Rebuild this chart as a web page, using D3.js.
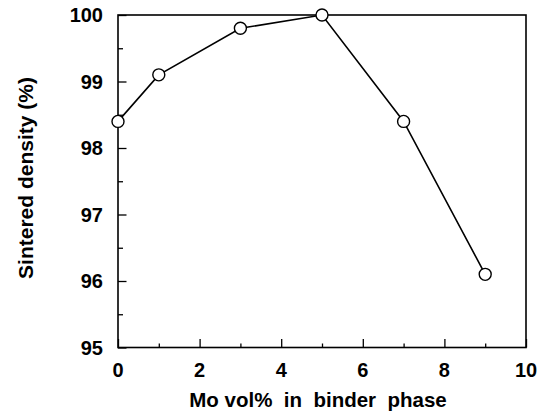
<!DOCTYPE html>
<html><head><meta charset="utf-8">
<script src="https://cdn.jsdelivr.net/npm/d3@7"></script>
<style>
body{margin:0;background:#fff;}
text{font-family:"Liberation Sans",Arial,Helvetica,sans-serif;font-weight:bold;fill:#000;}
</style></head>
<body><svg id="c" width="548" height="413"></svg>
<script>
const moVol = [0, 1, 3, 5, 7, 9];
const density = [98.4, 99.1, 99.8, 100.0, 98.4, 96.1];
const xTicks = [0, 2, 4, 6, 8, 10];
const yTicks = [95, 96, 97, 98, 99, 100];
const xMinor = [1, 3, 5, 7, 9];
const yMinor = [95.5, 96.5, 97.5, 98.5, 99.5];
const xTitle = "Mo vol%\u00a0 in\u00a0 binder\u00a0 phase";
const yTitle = "Sintered density (%)";

const L = 118, R = 526, T = 15, B = 347.5;
const svg = d3.select("#c");
const x = d3.scaleLinear().domain([0, 10]).range([L, R]);
const y = d3.scaleLinear().domain([95, 100]).range([B, T]);

// frame
svg.append("rect").attr("x", L).attr("y", T).attr("width", R - L).attr("height", B - T)
  .attr("fill", "none").attr("stroke", "#000").attr("stroke-width", 1.6);

// left axis ticks (inward)
const ya = svg.append("g").attr("transform", `translate(${L},0)`)
  .call(d3.axisRight(y).tickValues(yTicks).tickSize(8.5).tickFormat(""));
ya.select(".domain").remove();
ya.selectAll("line").attr("stroke", "#000").attr("stroke-width", 1.3);
const yam = svg.append("g").attr("transform", `translate(${L},0)`)
  .call(d3.axisRight(y).tickValues(yMinor).tickSize(5).tickFormat(""));
yam.select(".domain").remove();
yam.selectAll("line").attr("stroke", "#000").attr("stroke-width", 1.3);

// bottom axis ticks (inward)
const xa = svg.append("g").attr("transform", `translate(0,${B})`)
  .call(d3.axisTop(x).tickValues(xTicks).tickSize(8.5).tickFormat(""));
xa.select(".domain").remove();
xa.selectAll("line").attr("stroke", "#000").attr("stroke-width", 1.3);
const xam = svg.append("g").attr("transform", `translate(0,${B})`)
  .call(d3.axisTop(x).tickValues(xMinor).tickSize(4).tickFormat(""));
xam.select(".domain").remove();
xam.selectAll("line").attr("stroke", "#000").attr("stroke-width", 1.3);

// tick labels
svg.append("g").selectAll("text").data(yTicks).join("text")
  .attr("x", 103).attr("y", d => y(d)).attr("dy", "0.36em")
  .attr("text-anchor", "end").attr("font-size", 20).text(d => d);
svg.append("g").selectAll("text").data(xTicks).join("text")
  .attr("x", d => x(d)).attr("y", 376.5)
  .attr("text-anchor", "middle").attr("font-size", 20).text(d => d);

// titles
svg.append("text").attr("x", 318).attr("y", 406.5).attr("text-anchor", "middle")
  .attr("font-size", 20.5).text(xTitle);
svg.append("text").attr("transform", "translate(33,178) rotate(-90)")
  .attr("text-anchor", "middle").attr("font-size", 21).text(yTitle);

// data
const pts = moVol.map((v, i) => [v, density[i]]);
svg.append("path").datum(pts)
  .attr("d", d3.line().x(d => x(d[0])).y(d => y(d[1])))
  .attr("fill", "none").attr("stroke", "#000").attr("stroke-width", 1.6);
svg.append("g").selectAll("circle").data(pts).join("circle")
  .attr("cx", d => x(d[0])).attr("cy", d => y(d[1])).attr("r", 6)
  .attr("fill", "#fff").attr("stroke", "#000").attr("stroke-width", 1.4);
</script></body></html>
